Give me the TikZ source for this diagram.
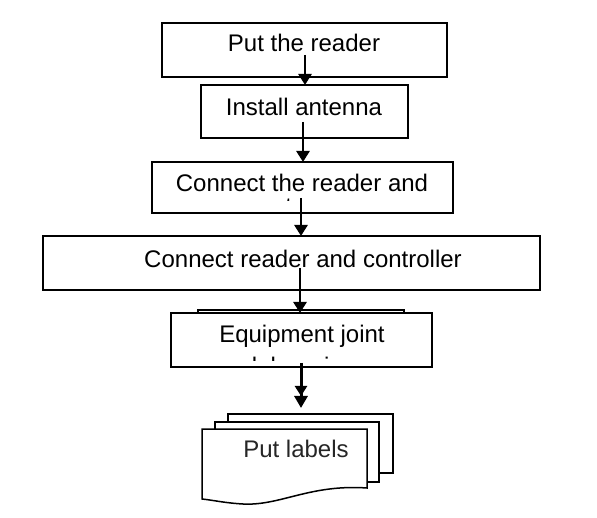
\documentclass[tikz,border=0pt]{standalone}
\usepackage{fontspec}
\setmainfont{Liberation Sans}
\usetikzlibrary{arrows.meta}
\begin{document}
\begin{tikzpicture}[x=1pt,y=-1pt,
  boxline/.style={draw=black,line width=2pt,fill=white},
  txt/.style={anchor=base,inner sep=0pt,font=\fontsize{24}{28}\selectfont},
  flow/.style={line width=2.6pt,-{Triangle[length=11pt,width=13pt]}},
  flowdbl/.style={line width=3pt,-{Triangle[length=10pt,width=12pt]Triangle[length=12pt,width=13pt]}}]
\useasboundingbox (0,0) rectangle (597,518);
% boxes
\draw[boxline] (162,23) rectangle (447,77);
\node[txt] (t1) at (304,52) {Put the reader};
\draw[boxline] (201,85) rectangle (408,138);
\coordinate (b2top) at (304,85);
\node[txt] (t2) at (304,116) {Install antenna};
\draw[boxline] (152,162) rectangle (453,213);
\coordinate (b3top) at (303,162);
\node[txt] (t3) at (302,192) {Connect the reader and};
\begin{scope}
  \clip (154,164) rectangle (451,200.5);
  \node[txt] (t3b) at (302,215) {antenna};
\end{scope}
\draw[boxline] (43,236) rectangle (540,290);
\coordinate (b4top) at (301,236);
\node[txt] (t4) at (303,268) {Connect reader and controller};
% box 5 with hidden box behind
\draw[draw=black,line width=1.5pt,fill=white] (198,310) rectangle (404,320);
\draw[boxline] (171,313) rectangle (432,367);
\coordinate (b5top) at (300,313);
\node[txt] (t5) at (302,343) {Equipment joint};
\begin{scope}
  \clip (173,315) rectangle (430,360.5);
  \node[txt] (t5b) at (300,374.5) {debugging};
\end{scope}
% document stack
\draw[line width=1.5pt,fill=white] (228,414) rectangle (393,473);
\draw[line width=2.2pt,fill=white] (215,422) rectangle (379,482);
\draw[line width=1.5pt,fill=white] (202,429) -- (367,429) -- (367,488)
  .. controls (310,484) and (280,506) .. (243,504)
  .. controls (225,503) and (212,500) .. (202,499) -- cycle;
\coordinate (doctop) at (301,414);
\node[txt,text=black!85] (t6) at (296,457) {Put labels};
% connectors
\coordinate (s1) at (305,55);
\coordinate (s2) at (303,122);
\coordinate (s3) at (301,198);
\coordinate (s4) at (300,268);
\coordinate (s5) at (301,363);
\coordinate (e5) at (301,408);
\draw[flow] (s1) -- (s1 |- b2top);
\draw[flow] (s2) -- (s2 |- b3top);
\draw[flow] (s3) -- (s3 |- b4top);
\draw[flow] (s4) -- (s4 |- b5top);
\draw[flowdbl] (s5) -- (e5);
\end{tikzpicture}
\end{document}
